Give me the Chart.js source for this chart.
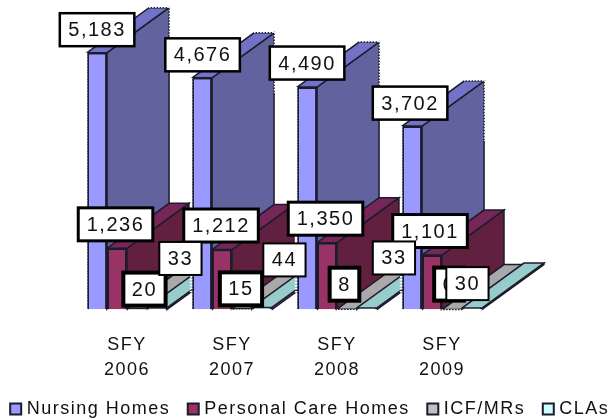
<!DOCTYPE html>
<html lang="en">
<head>
    <meta charset="UTF-8">
    <title>Facilities by State Fiscal Year</title>
    <script src="https://cdn.jsdelivr.net/npm/chart.js"></script>
    <style>
        html, body { margin: 0; padding: 0; background: #fff; }
        canvas { display: block; }
    </style>
</head>
<body>
<canvas id="facilityChart" width="613" height="419"></canvas>

<script>
// Chart values
const categories = [['SFY', '2006'], ['SFY', '2007'], ['SFY', '2008'], ['SFY', '2009']];
const nursingHomes = [5183, 4676, 4490, 3702];
const personalCareHomes = [1236, 1212, 1350, 1101];
const icfMrs = [20, 15, 8, 0];
const clas = [33, 44, 33, 30];

// Fake 3D depth of the bars, in pixels
const depthX = 62;
const depthY = -45;
const edgeColor = '#1c1c2c';
const sideColors = ['#62629f', '#622040', '#9a9a9a', '#7fb0b0'];
const topColors = ['#7272c8', '#77265a', '#a9a9a9', '#98cccc'];

// Data labels were moved by hand in the original, so each one has its own nudge
const labelNudges = [
    [[0, -23], [0.5, -23], [0, -24], [-2, -23]],
    [[-1.5, -24], [-1, -24], [-1.5, -24], [-2, -24]],
    [[7.5, -19.5], [-1, -20], [-2.5, -25], [-3, -25.5]],
    [[23.5, -49.5], [22.5, -47.5], [27, -50], [-4.5, -24.5]]
];
const labelBorders = [2.5, 3, 4, 2];

function setSpacing(chart) {
    chart.ctx.letterSpacing = '1.5px';
}

function fillFace(ctx, points, color) {
    ctx.beginPath();
    points.forEach((p, i) => i ? ctx.lineTo(p[0], p[1]) : ctx.moveTo(p[0], p[1]));
    ctx.closePath();
    ctx.fillStyle = color;
    ctx.fill();
    ctx.stroke();
}

// The outer edges of each cluster look dotted in the original
function dotEdges(chart) {
    const ctx = chart.ctx;
    ctx.save();
    ctx.strokeStyle = '#fff';
    ctx.lineWidth = 2.5;
    ctx.setLineDash([1.5, 1.5]);
    categories.forEach((c, i) => {
        const first = chart.getDatasetMeta(0).data[i];
        const last = chart.getDatasetMeta(3).data[i];
        const l = first.x - first.width / 2;
        const r = first.x + first.width / 2;
        ctx.beginPath();
        ctx.moveTo(l - 1, first.y);
        ctx.lineTo(l - 1, first.base + 1);
        ctx.lineTo(last.x + last.width / 2, first.base + 1);
        ctx.moveTo(l + depthX, first.y + depthY - 1);
        ctx.lineTo(r + depthX + 1, first.y + depthY - 1);
        ctx.lineTo(r + depthX + 1, first.y + depthY + 60);
        ctx.stroke();
    });
    ctx.restore();
}

const depthPlugin = {
    id: 'depth',
    beforeLayout: setSpacing,
    beforeDraw: setSpacing,
    beforeDatasetsDraw(chart) {
        const ctx = chart.ctx;
        ctx.save();
        ctx.strokeStyle = edgeColor;
        ctx.lineWidth = 1.5;
        categories.forEach((c, i) => {
            chart.data.datasets.forEach((ds, d) => {
                const bar = chart.getDatasetMeta(d).data[i];
                const l = bar.x - bar.width / 2;
                const r = bar.x + bar.width / 2;
                fillFace(ctx, [[r, bar.y], [r + depthX, bar.y + depthY], [r + depthX, bar.base + depthY], [r, bar.base]], sideColors[d]);
                fillFace(ctx, [[l, bar.y], [l + depthX, bar.y + depthY], [r + depthX, bar.y + depthY], [r, bar.y]], topColors[d]);
            });
        });
        ctx.restore();
    },
    afterDatasetsDraw(chart) {
        dotEdges(chart);
        const ctx = chart.ctx;
        ctx.save();
        ctx.font = '20px "Liberation Sans", Arial, sans-serif';
        ctx.letterSpacing = '1.5px';
        ctx.textAlign = 'center';
        ctx.textBaseline = 'middle';
        chart.data.datasets.forEach((ds, d) => {
            ds.data.forEach((value, i) => {
                const bar = chart.getDatasetMeta(d).data[i];
                const text = value.toLocaleString('en-US');
                const w = ctx.measureText(text).width + 17;
                const h = 33;
                const x = bar.x + labelNudges[d][i][0];
                const y = bar.y + labelNudges[d][i][1];
                ctx.fillStyle = '#fff';
                ctx.strokeStyle = '#000';
                ctx.lineWidth = labelBorders[d];
                ctx.fillRect(x - w / 2, y - h / 2, w, h);
                ctx.strokeRect(x - w / 2, y - h / 2, w, h);
                ctx.fillStyle = '#111';
                ctx.fillText(text, x, y + 1);
            });
        });
        ctx.restore();
    }
};

const barStyle = { borderColor: edgeColor, borderWidth: 2, categoryPercentage: 0.76, barPercentage: 1 };

// Invisible y axes only hold the side margins, so the legend can still use the full width
const hiddenAxis = (position, width) => ({
    position,
    min: 0,
    max: 6000,
    grid: { display: false },
    border: { display: false },
    ticks: { display: false },
    afterFit(scale) { scale.width = width; }
});

new Chart(document.getElementById('facilityChart'), {
    type: 'bar',
    data: {
        labels: categories,
        datasets: [
            { label: 'Nursing Homes', data: nursingHomes, backgroundColor: '#9999ff', ...barStyle },
            { label: 'Personal Care Homes', data: personalCareHomes, backgroundColor: '#993366', ...barStyle },
            { label: 'ICF/MRs', data: icfMrs, backgroundColor: '#c0c0c0', ...barStyle },
            { label: 'CLAs', data: clas, backgroundColor: '#ccffff', ...barStyle }
        ]
    },
    options: {
        responsive: false,
        animation: false,
        // negative side padding lets the one-row legend run almost to the canvas edges
        layout: { padding: { top: 12.2, bottom: -9, left: -15, right: -25 } },
        scales: {
            x: {
                grid: { display: false },
                border: { display: false },
                afterFit(scale) { scale.height -= 19; },
                ticks: {
                    color: '#111',
                    padding: 15,
                    maxRotation: 0,
                    font: { family: '"Liberation Sans", Arial, sans-serif', size: 18, lineHeight: 1.4 }
                }
            },
            y: hiddenAxis('left', 89.5),
            yRight: hiddenAxis('right', 143.5)
        },
        plugins: {
            tooltip: { enabled: false },
            legend: {
                position: 'bottom',
                labels: {
                    color: '#111',
                    usePointStyle: true,
                    pointStyle: 'rect',
                    boxWidth: 4,
                    boxHeight: 11,
                    padding: 21,
                    font: { family: '"Liberation Sans", Arial, sans-serif', size: 18 }
                }
            }
        }
    },
    plugins: [depthPlugin]
});
</script>
</body>
</html>
